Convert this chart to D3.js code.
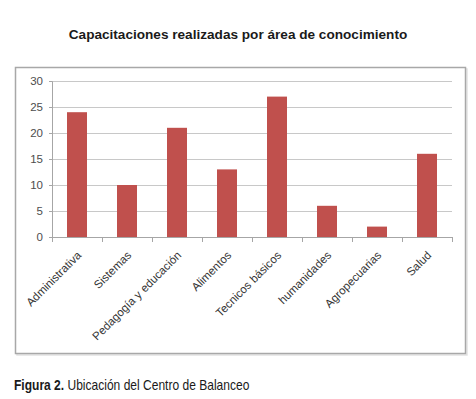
<!DOCTYPE html>
<html>
<head>
<meta charset="utf-8">
<script src="https://cdn.jsdelivr.net/npm/d3@7"></script>
<style>
  body { margin: 0; background: #fff; }
  svg { display: block; }
</style>
</head>
<body>
<svg id="chart"></svg>
<script>
const categories = ['Administrativa', 'Sistemas', 'Pedagogía y educación', 'Alimentos',
  'Tecnicos básicos', 'humanidades', 'Agropecuarias', 'Salud'];
const values = [24, 10, 21, 13, 27, 6, 2, 16];
const yTicks = [0, 5, 10, 15, 20, 25, 30];
const title = 'Capacitaciones realizadas por área de conocimiento';

const WIDTH = 476, HEIGHT = 399;
const margin = {top: 81, right: 24, bottom: 162, left: 52};
const width = WIDTH - margin.left - margin.right;
const height = HEIGHT - margin.top - margin.bottom;

const svg = d3.select('#chart')
  .attr('width', WIDTH)
  .attr('height', HEIGHT);

// chart frame (with a faint shadow like the original)
svg.append('rect')
  .attr('x', 17).attr('y', 69)
  .attr('width', 450).attr('height', 286)
  .attr('fill', 'none')
  .attr('stroke', '#e2e2e2')
  .attr('stroke-width', 1.5);
svg.append('rect')
  .attr('x', 15.5).attr('y', 67.5)
  .attr('width', 450).attr('height', 286)
  .attr('fill', '#fff')
  .attr('stroke', '#a8a8a8')
  .attr('stroke-width', 1.5);

svg.append('text')
  .attr('x', 238).attr('y', 39)
  .attr('text-anchor', 'middle')
  .style('font', 'bold 13.6px "Liberation Sans", Arial, sans-serif')
  .attr('fill', '#1a1a1a')
  .text(title);

const g = svg.append('g')
  .attr('transform', `translate(${margin.left},${margin.top})`);

const x = d3.scaleBand()
  .domain(categories)
  .range([0, width])
  .paddingInner(0.6)
  .paddingOuter(0.3);

const xPos = d3.scaleBand().domain(categories).range([0, width]);

const y = d3.scaleLinear()
  .domain([0, 30])
  .range([height, 0]);

// gridlines
g.append('g')
  .selectAll('line')
  .data(yTicks.filter(d => d > 0))
  .enter().append('line')
  .attr('x1', 0).attr('x2', width)
  .attr('y1', d => y(d) + 0.5).attr('y2', d => y(d) + 0.5)
  .attr('stroke', '#c8c8c8');

// y axis
const yAxis = g.append('g')
  .call(d3.axisLeft(y).tickValues(yTicks).tickSize(3).tickPadding(6));
yAxis.select('.domain').attr('stroke', '#a6a6a6');
yAxis.selectAll('.tick line').attr('stroke', '#a6a6a6');
yAxis.selectAll('text')
  .style('font', '11.5px "Liberation Sans", Arial, sans-serif')
  .attr('fill', '#4d4d4d');

// bars
g.selectAll('.bar')
  .data(values)
  .enter().append('rect')
  .attr('class', 'bar')
  .attr('x', (d, i) => x(categories[i]))
  .attr('width', x.bandwidth())
  .attr('y', d => y(d))
  .attr('height', d => height - y(d))
  .attr('fill', '#c0504d');

// x axis
const xAxisG = g.append('g')
  .attr('transform', `translate(0,${height})`);
xAxisG.append('line')
  .attr('x1', 0).attr('x2', width)
  .attr('y1', 0.5).attr('y2', 0.5)
  .attr('stroke', '#a6a6a6');
xAxisG.selectAll('.xtick')
  .data(categories.concat(['end']))
  .enter().append('line')
  .attr('x1', (d, i) => i * xPos.step() + 0.5)
  .attr('x2', (d, i) => i * xPos.step() + 0.5)
  .attr('y1', 0).attr('y2', 5)
  .attr('stroke', '#a6a6a6');

xAxisG.selectAll('.xlabel')
  .data(categories)
  .enter().append('text')
  .attr('class', 'xlabel')
  .attr('transform', d => `translate(${xPos(d) + xPos.bandwidth() / 2 + 5},${19}) rotate(-45)`)
  .attr('text-anchor', 'end')
  .style('font', '11.5px "Liberation Sans", Arial, sans-serif')
  .attr('fill', '#333')
  .text(d => d);

// caption, squeezed horizontally to mimic the narrow face of the original
const cap = svg.append('text')
  .attr('transform', 'translate(14,390) scale(0.86,1)')
  .style('font', '14px "Liberation Sans", sans-serif')
  .attr('fill', '#1a1a1a');
cap.append('tspan').style('font-weight', 'bold').text('Figura 2.');
cap.append('tspan').text(' Ubicación del Centro de Balanceo');
</script>
</body>
</html>
